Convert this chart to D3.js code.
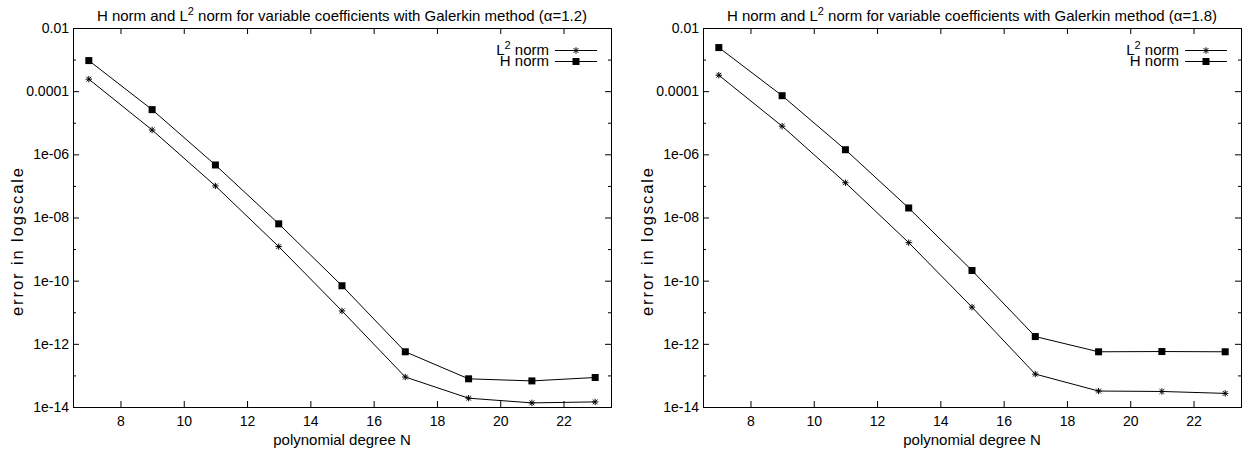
<!DOCTYPE html>
<html>
<head>
<meta charset="utf-8">
<script src="https://cdn.jsdelivr.net/npm/d3@7"></script>
<style>
  html, body { margin: 0; padding: 0; background: #fff; }
  svg { display: block; }
  text { font-family: "Liberation Sans", Arial, Helvetica, sans-serif; fill: #000; }
</style>
</head>
<body>
<svg id="chart" width="1248" height="450"></svg>
<script>
// ---- data ----
const degreesN = [7, 9, 11, 13, 15, 17, 19, 21, 23];

const l2NormAlpha12 = [2.4e-4, 5.9e-6, 1.0e-7, 1.2e-9, 1.1e-11, 8.9e-14, 1.9e-14, 1.35e-14, 1.45e-14];
const hNormAlpha12  = [9.3e-4, 2.6e-5, 4.6e-7, 6.3e-9, 6.9e-11, 5.6e-13, 7.8e-14, 6.7e-14, 8.6e-14];

const l2NormAlpha18 = [3.2e-4, 7.8e-6, 1.26e-7, 1.6e-9, 1.45e-11, 1.1e-13, 3.2e-14, 3.1e-14, 2.7e-14];
const hNormAlpha18  = [2.4e-3, 7.2e-5, 1.4e-6, 2.0e-8, 2.1e-10, 1.7e-12, 5.6e-13, 5.7e-13, 5.6e-13];

const xTickValues = [8, 10, 12, 14, 16, 18, 20, 22];
const yMajorTicks = [1e-2, 1e-4, 1e-6, 1e-8, 1e-10, 1e-12, 1e-14];
const yMajorLabels = ["0.01", "0.0001", "1e-06", "1e-08", "1e-10", "1e-12", "1e-14"];
const yMinorTicks = [1e-3, 1e-5, 1e-7, 1e-9, 1e-11, 1e-13];

const panelTitles = ["1.2", "1.8"];
const xAxisTitle = "polynomial degree N";
const yAxisTitle = "error in logscale";

// ---- layout ----
const svg = d3.select("#chart");
const TICK_FONT = 14;
const LABEL_FONT = 15;
const plotTop = 28, plotBottom = 407;
const panels = [
  { left: 73,  right: 611, l2: l2NormAlpha12, h: hNormAlpha12, alpha: panelTitles[0] },
  { left: 703, right: 1241, l2: l2NormAlpha18, h: hNormAlpha18, alpha: panelTitles[1] }
];

function starPath(s) {
  const d = s * 0.75;
  return `M${-s},0L${s},0M0,${-s}L0,${s}M${-d},${-d}L${d},${d}M${-d},${d}L${d},${-d}`;
}

panels.forEach(p => {
  const x = d3.scaleLinear().domain([6.5, 23.5]).range([p.left, p.right]);
  const y = d3.scaleLog().domain([1e-14, 1e-2]).range([plotBottom, plotTop]);
  const g = svg.append("g");

  const styleAxis = sel => {
    sel.select(".domain").remove();
    sel.selectAll(".tick line").attr("stroke", "#000").attr("stroke-width", 1);
    sel.selectAll(".tick text").attr("font-size", TICK_FONT)
      .attr("font-family", "Liberation Sans, Arial, sans-serif").attr("fill", "#000");
  };

  g.append("g").attr("transform", `translate(0,${plotBottom})`)
    .call(d3.axisBottom(x).tickValues(xTickValues).tickSizeInner(-6).tickSizeOuter(0).tickPadding(9).tickFormat(d3.format("d")))
    .call(styleAxis);
  g.append("g").attr("transform", `translate(0,${plotTop})`)
    .call(d3.axisTop(x).tickValues(xTickValues).tickSizeInner(-6).tickSizeOuter(0).tickFormat(""))
    .call(styleAxis);

  g.append("g").attr("transform", `translate(${p.left},0)`)
    .call(d3.axisLeft(y).tickValues(yMajorTicks).tickSizeInner(-6).tickSizeOuter(0).tickPadding(4)
      .tickFormat((d, i) => yMajorLabels[i]))
    .call(styleAxis);
  g.append("g").attr("transform", `translate(${p.left},0)`)
    .call(d3.axisLeft(y).tickValues(yMinorTicks).tickSizeInner(-3).tickSizeOuter(0).tickFormat(""))
    .call(styleAxis);
  g.append("g").attr("transform", `translate(${p.right},0)`)
    .call(d3.axisRight(y).tickValues(yMajorTicks).tickSizeInner(-6).tickSizeOuter(0).tickFormat(""))
    .call(styleAxis);
  g.append("g").attr("transform", `translate(${p.right},0)`)
    .call(d3.axisRight(y).tickValues(yMinorTicks).tickSizeInner(-3).tickSizeOuter(0).tickFormat(""))
    .call(styleAxis);

  g.append("rect")
    .attr("x", p.left + 0.5).attr("y", plotTop + 0.5)
    .attr("width", p.right - p.left).attr("height", plotBottom - plotTop)
    .attr("fill", "none").attr("stroke", "#000").attr("stroke-width", 1);

  // title
  const t = g.append("text")
    .attr("x", (p.left + p.right) / 2).attr("y", 21)
    .attr("text-anchor", "middle").attr("font-size", LABEL_FONT);
  t.append("tspan").text("H norm and L");
  t.append("tspan").attr("dy", -6).attr("font-size", 11).text("2");
  t.append("tspan").attr("dy", 6).text(" norm for variable coefficients with Galerkin method (");
  t.append("tspan").text("\u03b1=" + p.alpha + ")");

  // axis titles
  g.append("text")
    .attr("x", (p.left + p.right) / 2).attr("y", 445)
    .attr("text-anchor", "middle").attr("font-size", LABEL_FONT)
    .text(xAxisTitle);
  g.append("text")
    .attr("transform", `translate(${p.left - 50},242) rotate(-90)`)
    .attr("text-anchor", "middle").attr("font-size", 16.5)
    .attr("textLength", 148).attr("lengthAdjust", "spacing")
    .text(yAxisTitle);

  // lines
  const line = d3.line().x((d, i) => x(degreesN[i])).y(d => y(d));
  [p.l2, p.h].forEach(series => {
    g.append("path").datum(series)
      .attr("d", line).attr("fill", "none").attr("stroke", "#000").attr("stroke-width", 1);
  });

  // markers
  g.selectAll(null).data(p.l2).enter().append("path")
    .attr("transform", (d, i) => `translate(${x(degreesN[i])},${y(d)})`)
    .attr("d", starPath(3.2)).attr("stroke", "#000").attr("stroke-width", 1).attr("fill", "none");
  g.selectAll(null).data(p.h).enter().append("rect")
    .attr("x", (d, i) => x(degreesN[i]) - 3.5).attr("y", d => y(d) - 3.5)
    .attr("width", 7).attr("height", 7).attr("fill", "#000");

  // legend
  const textEnd = p.right - 62, lx0 = p.right - 56, lx1 = p.right - 14, lmid = (lx0 + lx1) / 2;
  const rows = [{ y: 50, kind: "l2" }, { y: 61, kind: "h" }];
  rows.forEach(r => {
    const lt = g.append("text").attr("x", textEnd).attr("y", r.y + 5)
      .attr("text-anchor", "end").attr("font-size", LABEL_FONT);
    if (r.kind === "l2") {
      lt.append("tspan").text("L");
      lt.append("tspan").attr("dy", -6).attr("font-size", 11).text("2");
      lt.append("tspan").attr("dy", 6).text(" norm");
    } else {
      lt.text("H norm");
    }
    g.append("line").attr("x1", lx0).attr("x2", lx1).attr("y1", r.y + 0.5).attr("y2", r.y + 0.5)
      .attr("stroke", "#000").attr("stroke-width", 1);
    if (r.kind === "l2") {
      g.append("path").attr("transform", `translate(${lmid},${r.y + 0.5})`)
        .attr("d", starPath(3.2)).attr("stroke", "#000").attr("fill", "none");
    } else {
      g.append("rect").attr("x", lmid - 3.5).attr("y", r.y - 3).attr("width", 7).attr("height", 7).attr("fill", "#000");
    }
  });
});
</script>
</body>
</html>
